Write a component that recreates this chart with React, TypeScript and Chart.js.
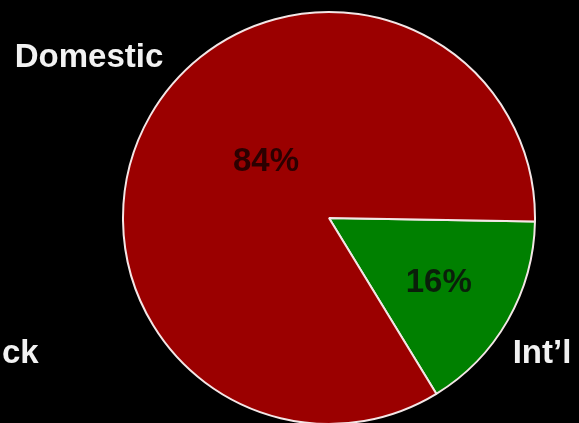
import React, { useEffect, useRef } from "react";
import { Chart, registerables } from "chart.js";

Chart.register(...registerables);

// Share of sales by market
const categories = ["Int’l", "Domestic"];
const shares = [16, 84];
const sliceColors = ["#008000", "#9b0000"];
const valueLabels = ["16%", "84%"];
const valueLabelColors = ["#0a1f0a", "#2c0000"];

// Category captions drawn around the pie: [text, x, baseline, align]
const captions: [string, number, number, CanvasTextAlign][] = [
  ["Domestic", 89, 67, "center"],
  ["Int’l", 542, 363, "center"],
  ["ck", 2, 363, "left"],
];

// Position of each value label inside its slice: [angle offset from slice middle (deg), radius fraction]
const valueLabelPlacement: [number, number][] = [
  [1, 0.62],
  [12, 0.41],
];

const FONT = "bold 33px 'Liberation Sans', Arial, sans-serif";

const pieLabels = {
  id: "pieLabels",
  afterDraw(chart: Chart) {
    const ctx = chart.ctx;
    const meta = chart.getDatasetMeta(0);
    ctx.save();
    ctx.font = FONT;
    ctx.textBaseline = "middle";
    ctx.textAlign = "center";
    meta.data.forEach((el: any, i: number) => {
      const { x, y, startAngle, endAngle, outerRadius } = el.getProps(
        ["x", "y", "startAngle", "endAngle", "outerRadius"],
        true
      );
      const [offDeg, frac] = valueLabelPlacement[i];
      const a = (startAngle + endAngle) / 2 + (offDeg * Math.PI) / 180;
      const r = outerRadius * frac;
      ctx.fillStyle = valueLabelColors[i];
      ctx.fillText(valueLabels[i], x + Math.cos(a) * r, y + Math.sin(a) * r);
    });
    ctx.textBaseline = "alphabetic";
    ctx.fillStyle = "#f2f2f2";
    captions.forEach(([t, x, y, align]) => {
      ctx.textAlign = align;
      ctx.fillText(t, x, y);
    });
    ctx.restore();
  },
};

export default function App() {
  const canvasRef = useRef<HTMLCanvasElement | null>(null);

  useEffect(() => {
    if (!canvasRef.current) return;
    const chart = new Chart(canvasRef.current, {
      type: "pie",
      data: {
        labels: categories,
        datasets: [
          {
            data: shares,
            backgroundColor: sliceColors,
            borderColor: "#f3e6e6",
            borderWidth: 2,
          },
        ],
      },
      options: {
        animation: false,
        responsive: false,
        rotation: 91,
        layout: { padding: { left: 120, right: 41, top: 11, bottom: 3 } },
        plugins: {
          legend: { display: false },
          tooltip: { enabled: false },
        },
      },
      plugins: [pieLabels],
    });
    return () => chart.destroy();
  }, []);

  return (
    <div
      style={{
        position: "fixed",
        left: 0,
        top: 0,
        width: 579,
        height: 423,
        background: "#000",
        overflow: "hidden",
      }}
    >
      <canvas ref={canvasRef} width={579} height={428} style={{ display: "block" }} />
    </div>
  );
}
